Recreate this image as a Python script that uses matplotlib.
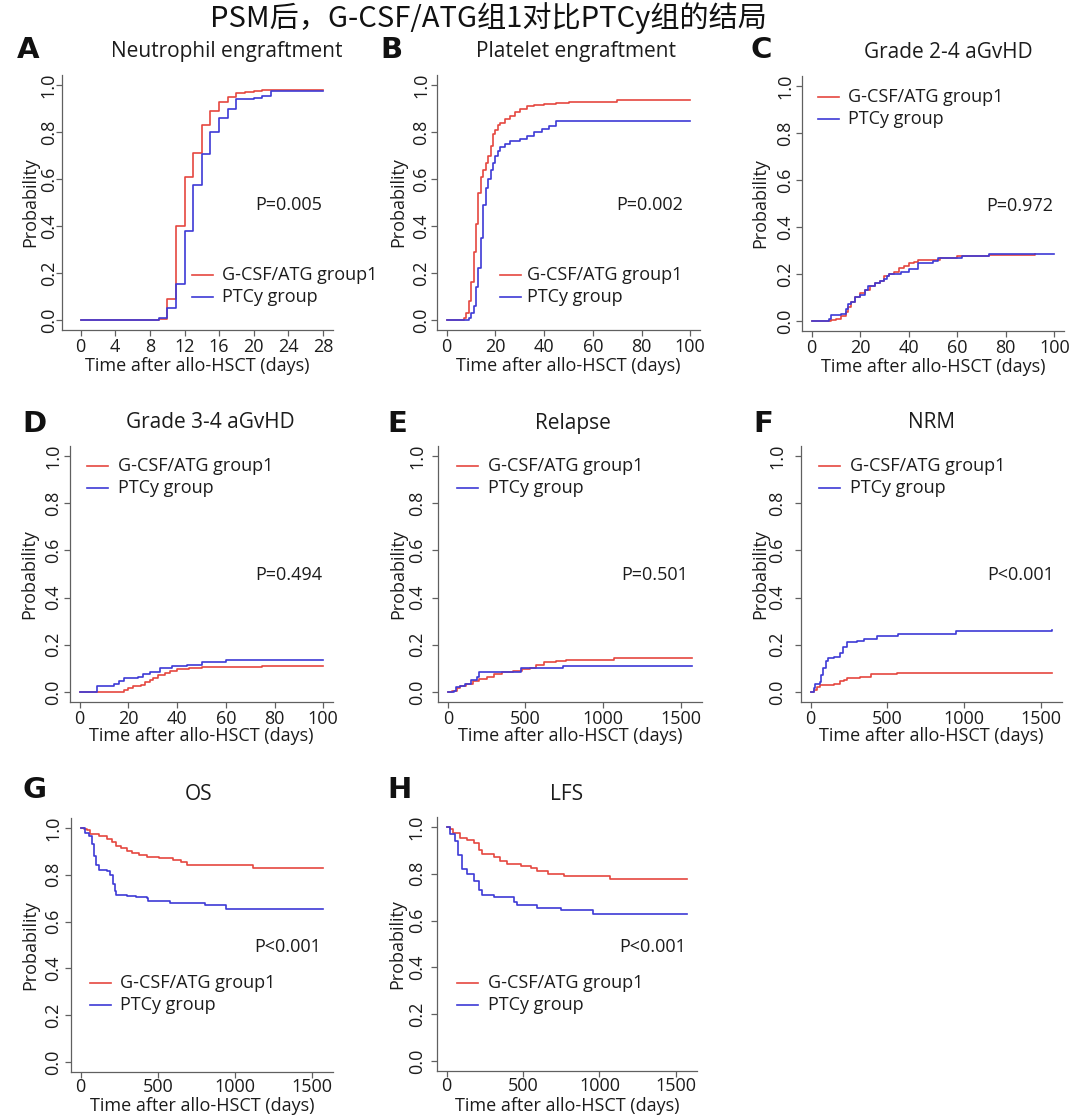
import matplotlib
matplotlib.use("Agg")
import matplotlib.pyplot as plt
from matplotlib.lines import Line2D

plt.rcParams['font.family'] = ['Open Sans', 'DejaVu Sans']

W, H = 1080, 1116
RED = '#e5473f'
BLUE = '#3d3ad6'
AXCOL = '#606060'
TXT = '#1c1c1c'
FS = 13

TITLE = 'PSM后，G-CSF/ATG组1对比PTCy组的结局'
GROUPS = ['G-CSF/ATG group1', 'PTCy group']
XLABEL = 'Time after allo-HSCT (days)'
YLABEL = 'Probability'

# A: neutrophil engraftment
neu_t_atg = [0, 9, 10, 11, 12, 13, 14, 15, 16, 17, 18, 19, 20, 21, 22, 28]
neu_p_atg = [0, 0.005, 0.09, 0.40, 0.61, 0.71, 0.83, 0.89, 0.93, 0.95, 0.965, 0.97, 0.975, 0.978, 0.98, 0.98]
neu_t_ptcy = [0, 9, 10, 11, 12, 13, 14, 15, 16, 17, 18, 20, 21, 22, 28]
neu_p_ptcy = [0, 0.01, 0.05, 0.155, 0.38, 0.575, 0.705, 0.80, 0.86, 0.90, 0.94, 0.945, 0.955, 0.975, 0.975]

# B: platelet engraftment
plt_t_atg = [0, 7, 8, 9, 10, 11, 12, 13, 14, 15, 16, 17, 18, 19, 20, 21, 22, 24, 26, 28, 30, 33, 36, 40, 45, 50, 70, 100]
plt_p_atg = [0, 0.01, 0.03, 0.08, 0.16, 0.29, 0.41, 0.54, 0.61, 0.64, 0.67, 0.70, 0.74, 0.79, 0.81, 0.83, 0.84,
             0.855, 0.87, 0.885, 0.90, 0.91, 0.915, 0.92, 0.925, 0.93, 0.935, 0.935]
plt_t_ptcy = [0, 9, 10, 11, 12, 13, 14, 15, 16, 17, 18, 19, 20, 21, 22, 24, 26, 30, 33, 36, 39, 42, 45, 100]
plt_p_ptcy = [0, 0.01, 0.03, 0.06, 0.14, 0.22, 0.35, 0.49, 0.56, 0.60, 0.64, 0.67, 0.70, 0.72, 0.735, 0.75, 0.76,
              0.77, 0.785, 0.80, 0.815, 0.825, 0.845, 0.845]

# C: grade 2-4 aGvHD
g24_t_atg = [0, 8, 10, 12, 14, 15, 16, 18, 20, 22, 24, 26, 28, 30, 32, 34, 36, 38, 40, 42, 44, 50, 53, 60, 73, 92]
g24_p_atg = [0, 0.005, 0.01, 0.02, 0.04, 0.06, 0.08, 0.10, 0.12, 0.13, 0.15, 0.16, 0.17, 0.19, 0.20, 0.21, 0.225,
             0.235, 0.245, 0.25, 0.26, 0.26, 0.27, 0.275, 0.28, 0.285]
g24_t_ptcy = [0, 7, 8, 12, 14, 15, 16, 18, 20, 22, 23, 26, 28, 30, 31, 32, 36, 37, 40, 44, 50, 52, 60, 62, 73, 100]
g24_p_ptcy = [0, 0.01, 0.025, 0.03, 0.05, 0.07, 0.08, 0.10, 0.11, 0.13, 0.15, 0.16, 0.17, 0.18, 0.19, 0.20, 0.20,
              0.21, 0.22, 0.245, 0.255, 0.27, 0.27, 0.275, 0.285, 0.285]

# D: grade 3-4 aGvHD
g34_t_atg = [0, 18, 20, 22, 25, 27, 29, 30, 32, 35, 37, 40, 45, 50, 75, 100]
g34_p_atg = [0, 0.01, 0.015, 0.025, 0.03, 0.04, 0.05, 0.06, 0.07, 0.08, 0.09, 0.095, 0.10, 0.105, 0.11, 0.11]
g34_t_ptcy = [0, 7, 14, 16, 18, 24, 26, 29, 33, 38, 44, 50, 60, 100]
g34_p_ptcy = [0, 0.025, 0.035, 0.045, 0.058, 0.065, 0.075, 0.085, 0.10, 0.11, 0.115, 0.125, 0.135, 0.135]

# E: relapse
rel_t_atg = [0, 30, 60, 80, 120, 160, 200, 250, 300, 350, 420, 480, 530, 570, 620, 700, 760, 1070, 1575]
rel_p_atg = [0, 0.005, 0.015, 0.025, 0.035, 0.045, 0.055, 0.065, 0.075, 0.085, 0.09, 0.095, 0.10, 0.115, 0.125,
             0.13, 0.135, 0.145, 0.145]
rel_t_ptcy = [0, 40, 50, 80, 110, 150, 190, 200, 460, 470, 730, 740, 1575]
rel_p_ptcy = [0, 0.005, 0.02, 0.025, 0.035, 0.05, 0.065, 0.085, 0.085, 0.10, 0.10, 0.11, 0.11]

# F: NRM
nrm_t_atg = [0, 20, 40, 60, 150, 190, 215, 235, 320, 390, 560, 1575]
nrm_p_atg = [0, 0.01, 0.02, 0.03, 0.035, 0.045, 0.05, 0.058, 0.065, 0.075, 0.08, 0.08]
nrm_t_ptcy = [0, 20, 30, 60, 70, 80, 100, 115, 150, 190, 210, 235, 300, 350, 430, 570, 950, 1575]
nrm_p_ptcy = [0, 0.015, 0.035, 0.04, 0.07, 0.10, 0.13, 0.145, 0.15, 0.165, 0.19, 0.21, 0.215, 0.225, 0.235,
              0.245, 0.26, 0.262]

# G: OS
os_t_atg = [0, 20, 40, 60, 120, 170, 200, 230, 260, 300, 330, 380, 430, 510, 600, 650, 690, 1120, 1573]
os_p_atg = [1, 0.995, 0.99, 0.975, 0.965, 0.955, 0.94, 0.925, 0.915, 0.90, 0.895, 0.885, 0.875, 0.87, 0.865,
            0.855, 0.84, 0.83, 0.83]
os_t_ptcy = [0, 25, 55, 75, 85, 100, 120, 170, 190, 210, 220, 230, 300, 360, 430, 440, 580, 805, 945, 1573]
os_p_ptcy = [1, 0.98, 0.965, 0.93, 0.88, 0.84, 0.82, 0.815, 0.80, 0.76, 0.73, 0.715, 0.71, 0.705, 0.70, 0.69,
             0.68, 0.67, 0.655, 0.655]

# H: LFS
lfs_t_atg = [0, 20, 44, 88, 132, 176, 209, 231, 308, 352, 396, 484, 550, 594, 660, 770, 1070, 1575]
lfs_p_atg = [1, 0.99, 0.975, 0.955, 0.945, 0.93, 0.90, 0.885, 0.87, 0.855, 0.84, 0.835, 0.825, 0.81, 0.80,
             0.79, 0.78, 0.78]
lfs_t_ptcy = [0, 22, 55, 77, 99, 132, 176, 209, 231, 308, 440, 462, 594, 748, 957, 1575]
lfs_p_ptcy = [1, 0.97, 0.94, 0.88, 0.82, 0.80, 0.77, 0.73, 0.71, 0.70, 0.68, 0.665, 0.655, 0.645, 0.63, 0.63]

p_values = ['P=0.005', 'P=0.002', 'P=0.972', 'P=0.494', 'P=0.501', 'P<0.001', 'P<0.001', 'P<0.001']
titles = ['Neutrophil engraftment', 'Platelet engraftment', 'Grade 2-4 aGvHD', 'Grade 3-4 aGvHD',
          'Relapse', 'NRM', 'OS', 'LFS']
letters = list('ABCDEFGH')
y_ticks = [0.0, 0.2, 0.4, 0.6, 0.8, 1.0]

curves = [
    (neu_t_atg, neu_p_atg, neu_t_ptcy, neu_p_ptcy),
    (plt_t_atg, plt_p_atg, plt_t_ptcy, plt_p_ptcy),
    (g24_t_atg, g24_p_atg, g24_t_ptcy, g24_p_ptcy),
    (g34_t_atg, g34_p_atg, g34_t_ptcy, g34_p_ptcy),
    (rel_t_atg, rel_p_atg, rel_t_ptcy, rel_p_ptcy),
    (nrm_t_atg, nrm_p_atg, nrm_t_ptcy, nrm_p_ptcy),
    (os_t_atg, os_p_atg, os_t_ptcy, os_p_ptcy),
    (lfs_t_atg, lfs_p_atg, lfs_t_ptcy, lfs_p_ptcy),
]

# layout in pixels: axes box (left, right, top, bottom), x range, ticks
boxes = [(62, 333, 75, 330), (437, 700, 75, 330), (802, 1064, 76, 331),
         (70, 333, 446, 702), (438, 702, 446, 702), (801, 1062, 446, 702),
         (71, 333, 818, 1072), (437, 697, 817, 1071)]
xlims = [(-2.16, 29.16)] + [(-4, 104)] * 3 + [(-63, 1638)] * 4
xticks = [list(range(0, 29, 4))] + [[0, 20, 40, 60, 80, 100]] * 3 + [[0, 500, 1000, 1500]] * 4
ytick_pad = [-1, 0.8, 1.8, 1.4, 4.7, 6.8, 2.2, 4]           # points
xtick_pad = [1.5] * 6 + [0, 0]
ylabel_x = [30, 398, 760, 29, 398, 760, 30, 397]            # pixel centre
xlabel_y = [366, 366, 367, 736, 736, 736, 1106, 1106]       # pixel centre
letter_pos = [(17, 50), (380, 50), (750, 50), (22, 424), (387, 424), (753, 424), (22, 790), (387, 790)]
title_pos = [(227, 52), (576, 52), (948, 52), (210, 423), (573, 423), (931, 423), (199, 795), (567, 795)]
p_pos = [(289, 205), (650, 205), (1020, 206), (289, 575), (655, 575), (1021, 575), (288, 947), (653, 947)]
# legend: line start x, text x, first row y
leg_pos = [(192, 222, 275), (500, 527, 275), (818, 848, 97), (87, 118, 466),
           (457, 488, 466), (819, 850, 466), (90, 120, 983), (457, 488, 983)]

fig = plt.figure(figsize=(W / 100, H / 100), dpi=100)
fig.text(488 / W, 1 - 18 / H, TITLE, ha='center', va='center', fontsize=21, color='#111111',
         family=['Noto Sans CJK SC', 'DejaVu Sans'])

for i in range(8):
    l, r, t, b = boxes[i]
    ax = fig.add_axes([l / W, 1 - b / H, (r - l) / W, (b - t) / H])
    ta, pa, tp, pp = curves[i]
    ax.step(ta, pa, where='post', color=RED, lw=1.2)
    ax.step(tp, pp, where='post', color=BLUE, lw=1.2)
    ax.set_xlim(*xlims[i])
    ax.set_ylim(-0.043, 1.043)
    ax.set_xticks(xticks[i])
    ax.set_yticks(y_ticks)
    ax.set_yticklabels([f'{v:.1f}' for v in y_ticks], rotation=90, va='center')
    for s in ['top', 'right']:
        ax.spines[s].set_visible(False)
    for s in ['left', 'bottom']:
        ax.spines[s].set_color(AXCOL)
        ax.spines[s].set_linewidth(0.9)
    ax.tick_params(colors=AXCOL, labelcolor=TXT, labelsize=FS, length=4, width=0.9)
    ax.tick_params(axis='x', pad=xtick_pad[i])
    ax.tick_params(axis='y', pad=ytick_pad[i])

    ax.set_xlabel(XLABEL, fontsize=FS, color=TXT, va='center')
    ax.xaxis.set_label_coords(0.5, (b - xlabel_y[i]) / (b - t))
    ax.set_ylabel(YLABEL, fontsize=FS, color=TXT, va='center')
    ax.yaxis.set_label_coords((ylabel_x[i] - l) / (r - l), 0.5)

    lx, ly = letter_pos[i]
    fig.text(lx / W, 1 - ly / H, letters[i], ha='left', va='center', fontsize=21, weight='bold',
             color='#111111', family='DejaVu Sans')
    tx, ty = title_pos[i]
    fig.text(tx / W, 1 - ty / H, titles[i], ha='center', va='center', fontsize=15, color=TXT)
    px, py = p_pos[i]
    fig.text(px / W, 1 - py / H, p_values[i], ha='center', va='center', fontsize=FS, color=TXT)

    x0, xt, y0 = leg_pos[i]
    for k, (lab, col) in enumerate(zip(GROUPS, [RED, BLUE])):
        yy = 1 - (y0 + 22 * k) / H
        fig.add_artist(Line2D([x0 / W, (x0 + 21) / W], [yy, yy], color=col, lw=1.2))
        fig.text(xt / W, yy, lab, ha='left', va='center', fontsize=FS, color=TXT)

fig.savefig('out.png', dpi=100, facecolor='white')
